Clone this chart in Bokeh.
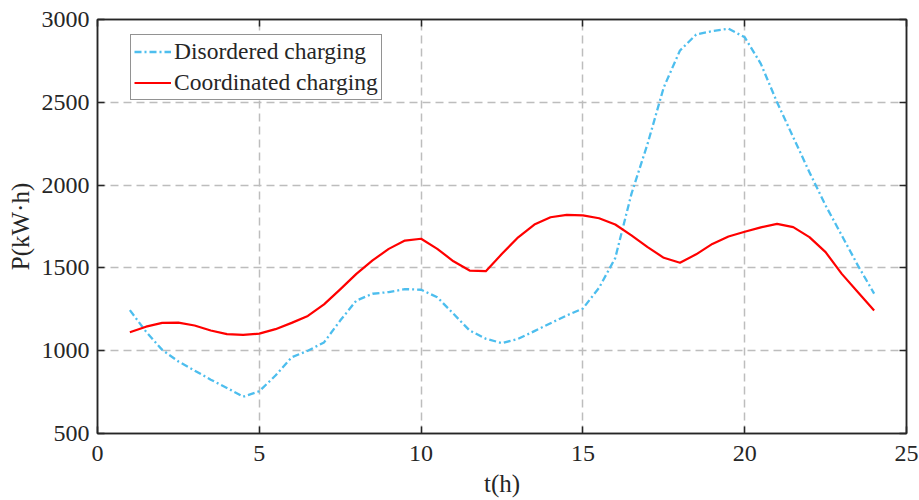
from bokeh.plotting import figure
from bokeh.models import LinearAxis, Range1d, FixedTicker, CustomJSTickFormatter, Legend, LegendItem
from bokeh.embed import file_html
from bokeh.resources import INLINE

# time (h)
t = [1, 1.5, 2, 2.5, 3, 3.5, 4, 4.5, 5, 5.5, 6, 6.5, 7, 7.5, 8, 8.5, 9, 9.5, 10,
     10.5, 11, 11.5, 12, 12.5, 13, 13.5, 14, 14.5, 15, 15.5, 16, 16.5, 17, 17.5,
     18, 18.5, 19, 19.5, 20, 20.5, 21, 21.5, 22, 22.5, 23, 23.5, 24]

disordered = [1245, 1115, 1005, 935, 880, 825, 775, 722, 755, 850, 960, 1000, 1050,
              1182, 1303, 1344, 1354, 1372, 1368, 1323, 1223, 1122, 1072, 1046, 1072,
              1118, 1166, 1213, 1255, 1380, 1560, 1947, 2250, 2591, 2813, 2909, 2930,
              2944, 2893, 2732, 2500, 2289, 2078, 1877, 1696, 1514, 1345]

coordinated = [1111, 1145, 1168, 1170, 1152, 1122, 1100, 1095, 1103, 1130, 1168, 1210,
               1280, 1370, 1464, 1545, 1615, 1665, 1676, 1615, 1540, 1484, 1480, 1585,
               1685, 1762, 1806, 1820, 1817, 1800, 1762, 1696, 1625, 1561, 1531, 1582,
               1645, 1690, 1718, 1745, 1766, 1746, 1686, 1595, 1464, 1353, 1243]

x_ticks = [0, 5, 10, 15, 20, 25]
y_ticks = [500, 1000, 1500, 2000, 2500, 3000]

FONT = "Liberation Serif"
INK = "#262626"

p = figure(width=919, height=500, output_backend="svg", toolbar_location=None,
           x_range=Range1d(0, 25), y_range=Range1d(500, 3000),
           frame_width=809, frame_height=414,
           min_border_left=97, min_border_top=19, min_border_right=13, min_border_bottom=67)

p.background_fill_color = "white"
p.border_fill_color = "white"
p.outline_line_color = INK
p.outline_line_width = 1.5

for ax in (p.xaxis[0], p.yaxis[0]):
    ax.major_label_text_font = FONT
    ax.major_label_text_font_size = "24px"
    ax.major_label_text_color = INK
    ax.axis_label_text_font = FONT
    ax.axis_label_text_font_size = "25px"
    ax.axis_label_text_font_style = "normal"
    ax.axis_label_text_color = INK
    ax.axis_line_color = INK
    ax.axis_line_width = 1.5
    ax.major_tick_in = 7
    ax.major_tick_out = 0
    ax.major_tick_line_color = INK
    ax.major_tick_line_width = 1.5
    ax.minor_tick_line_color = None

p.xaxis[0].ticker = FixedTicker(ticks=x_ticks)
p.yaxis[0].ticker = FixedTicker(ticks=y_ticks)
p.xaxis[0].axis_label = "t(h)"
p.yaxis[0].axis_label = "P(kW·h)"
p.xaxis[0].major_label_standoff = 12
p.yaxis[0].major_label_standoff = 8
p.xaxis[0].axis_label_standoff = 6
p.yaxis[0].axis_label_standoff = 5

blank = CustomJSTickFormatter(code="return '';")
top = LinearAxis(ticker=FixedTicker(ticks=x_ticks), formatter=blank)
right = LinearAxis(ticker=FixedTicker(ticks=y_ticks), formatter=blank)
for ax in (top, right):
    ax.axis_line_color = INK
    ax.axis_line_width = 1.5
    ax.major_tick_in = 7
    ax.major_tick_out = 0
    ax.major_tick_line_color = INK
    ax.major_tick_line_width = 1.5
    ax.minor_tick_line_color = None
    ax.major_label_standoff = 0
p.add_layout(top, "above")
p.add_layout(right, "right")

for g in (p.xgrid[0], p.ygrid[0]):
    g.grid_line_color = "#bdbdbd"
    g.grid_line_width = 1.5
    g.grid_line_dash = "8 5"

r1 = p.line(t, disordered, line_color="#4DBEEE", line_width=2.3, line_dash="7 3 2 3",
            line_join="round")
r2 = p.line(t, coordinated, line_color="#FF0000", line_width=2.2, line_join="round")

legend = Legend(items=[LegendItem(label="Disordered charging", renderers=[r1]),
                       LegendItem(label="Coordinated charging", renderers=[r2])],
                location=(33, 333))
legend.label_text_font = FONT
legend.label_text_font_size = "23.5px"
legend.label_text_color = INK
legend.border_line_color = INK
legend.border_line_width = 1.5
legend.background_fill_color = "white"
legend.background_fill_alpha = 1
legend.glyph_width = 37
legend.glyph_height = 25
legend.label_standoff = 3
legend.padding = 3
legend.spacing = 4
legend.margin = 0
legend.label_height = 25
p.add_layout(legend, "center")

open("out.html", "w").write(file_html(p, INLINE))
